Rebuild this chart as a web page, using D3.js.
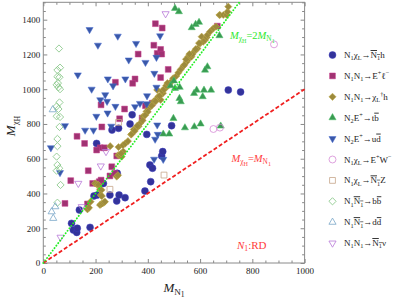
<!DOCTYPE html>
<html>
<head>
<meta charset="utf-8">
<script src="https://cdn.jsdelivr.net/npm/d3@7"></script>
<style>
body { margin: 0; background: #fff; }
svg { display: block; }
text { font-family: "Liberation Serif", "DejaVu Serif", serif; fill: #222; }
</style>
</head>
<body>
<svg id="chart" width="399" height="300"></svg>
<script>
// N1 chiL -> N1bar h
var chiNh = [[108,228],[115,190],[128,176],[130,200],[138,305],[179,205],[207,391],[230,458],[194,386],[255,391],[281,357],[290,391],[313,376],[283,516],[389,414],[411,468],[408,564],[418,545],[453,616],[457,641],[396,740],[263,765],[288,775],[332,800],[340,853],[204,688],[491,790],[708,995],[755,984]];
// N1 N1 -> E+ l-
var nnEl = [[429,1377],[455,1352],[423,1253],[363,1202],[436,1206],[449,1229],[453,1202],[478,1114],[449,1067],[351,1059],[342,1034],[276,1040],[221,910],[311,886],[292,830],[391,905],[417,920],[378,834],[129,729],[158,688],[224,783],[218,663],[234,663],[666,1363],[83,343],[105,474],[172,531],[189,458],[214,468],[221,477],[255,501],[262,554],[274,516],[281,616],[204,650],[169,340]];
// N1 N1 -> chiL^dagger h
var nnChih = [[169,309],[175,318],[181,353],[198,458],[205,452],[211,449],[217,424],[223,420],[220,391],[224,385],[217,334],[222,340],[227,343],[232,348],[236,353],[281,497],[286,505],[287,621],[291,621],[300,612],[306,641],[298,630],
  [256,672],[288,667],[305,678],[314,688],[324,701],[336,739],[338,742],[346,768],[356,777],[365,787],[372,806],[382,844],[395,872],[404,891],[410,910],[423,930],[433,943],[440,958],[449,939],[436,996],[458,977],[468,1006],[481,1025],[490,1044],[497,1063],[509,1076],[517,1095],[526,1114],[536,1133],[549,1158],[558,1177],[567,1187],[577,1215],[590,1234],[600,1263],[606,1302],[612,1273],[619,1283],[625,1298],[628,1312],[638,1331],[651,1350],[661,1360],[674,1427],[676,1427],[689,1427],[702,1427],[705,1446],[708,1475],
  [455,990],[462,1000],[470,1020],[475,1035],[445,960],[430,930],[415,905],[400,870],[390,850],[380,820],[360,790],[350,760],[596,1265],[583,1230],[570,1200],[540,1140],[555,1187],[546,1172],[559,1202]];
// N2 E+ -> t bbar
var neTb = [[504,1465],[519,1446],[568,1354],[583,1373],[596,1385],[674,1308],[628,1129],[619,1110],[587,995],[577,976],[615,995],[642,995],[610,957],[521,947],[526,928],[487,1020],[504,1005],[498,832],[542,778],[578,784],[602,800],[679,788],[459,742],[482,742],[500,1048],[522,1011]];
// N2 E+ -> u dbar
var neUd = [[177,1343],[209,1253],[285,1305],[355,1263],[447,1307],[132,1082],[185,1000],[327,1168],[391,1154],[433,1183],[425,1091],[247,1059],[314,1059],[267,1019],[237,968],[218,939],[244,930],[276,901],[246,863],[203,844],[160,764],[192,764],[260,787],[351,899],[370,918],[396,916],[397,962],[433,1011],[83,790],[29,663],[436,794],[428,712],[438,740],[424,597],[459,596],[64,520]];
// N1 chiL -> E+ W-
var chiEW = [[883,1258],[651,771],[676,779]];
// N1 chiL -> N1bar Z
var chiNZ = [[255,424],[462,506],[288,809]];
// N1 N1bar -> b bbar
var nnBb = [[60,1234],[54,1110],[64,1124],[54,1072],[62,1069],[51,1025],[58,1011],[64,1000],[56,1035],[62,924],[51,901],[58,886],[51,844],[64,840],[62,783],[54,714],[54,672],[51,612],[54,564],[61,545],[51,531],[66,449],[54,347]];
// N1 N1bar -> d dbar
var nnDd = [[36,882],[32,295],[38,257],[46,324]];
// N1 N1 -> N1bar nu
var nnNnu = [[468,1434],[134,458],[147,324],[66,148],[220,558],[240,641]];

var xTicks = [0, 200, 400, 600, 800, 1000];
var yTicks = [0, 200, 400, 600, 800, 1000, 1200, 1400];

var series = [
  {data: chiNh,  label: 'N_1χ_L→[N_1]h',   shape: 'circle',   color: '#33339a', fill: true},
  {data: nnEl,   label: 'N_1N_1→E^+ℓ^−',   shape: 'square',   color: '#a03272', fill: true},
  {data: nnChih, label: 'N_1N_1→χ_L^†h',   shape: 'diamond',  color: '#9c8a3c', fill: true},
  {data: neTb,   label: 'N_2E^+→t[b]',     shape: 'triangle', color: '#3a9a52', fill: true},
  {data: neUd,   label: 'N_2E^+→u[d]',     shape: 'down',     color: '#3a58a8', fill: true},
  {data: chiEW,  label: 'N_1χ_L→E^+W^−',   shape: 'circle',   color: '#d58ad5', fill: false},
  {data: chiNZ,  label: 'N_1χ_L→[N_1]Z',   shape: 'square',   color: '#c6a68a', fill: false},
  {data: nnBb,   label: 'N_1[N_1]→b[b]',   shape: 'diamond',  color: '#86c686', fill: false},
  {data: nnDd,   label: 'N_1[N_1]→d[d]',   shape: 'triangle', color: '#78a6c8', fill: false},
  {data: nnNnu,  label: 'N_1N_1→[N_1]ν',   shape: 'down',     color: '#b878d8', fill: false}
];

var svg = d3.select('#chart');
var x = d3.scaleLinear().domain([0, 1000]).range([43.3, 304.6]);
var y = d3.scaleLinear().domain([0, 1500]).range([263, 2.3]);

// small markup: _x sub, __x subsub, ^x sup, [..] overline, *..* italic
function rich(t, str, size) {
  var over = false, ital = false, cur = 0;
  for (var i = 0; i < str.length; i++) {
    var c = str[i], lvl = 0;
    if (c == '[') { over = true; continue; }
    if (c == ']') { over = false; continue; }
    if (c == '*') { ital = !ital; continue; }
    if (c == '_') {
      lvl = 1;
      if (str[i+1] == '_') { lvl = 2; i++; }
      c = str[++i];
    } else if (c == '^') {
      lvl = 3;
      c = str[++i];
    }
    var shift = [0, 0.26, 0.4, -0.38][lvl] * size;
    var ts = t.append('tspan').text(c)
      .attr('dy', shift - cur)
      .attr('font-size', [1, 0.7, 0.58, 0.7][lvl] * size);
    cur = shift;
    if (ital) ts.attr('font-style', 'italic');
    if (over) ts.style('text-decoration', 'overline');
  }
}

function symPath(shape) {
  if (shape == 'circle') return d3.symbol(d3.symbolCircle, 38)();
  if (shape == 'square') return d3.symbol(d3.symbolSquare, 34)();
  if (shape == 'diamond') return d3.symbol(d3.symbolSquare, 26)();
  return d3.symbol(d3.symbolTriangle, 22)();
}
function symRot(shape) {
  if (shape == 'diamond') return ' rotate(45)';
  if (shape == 'down') return ' rotate(180)';
  return '';
}
function styleMark(sel, s) {
  if (s.fill) sel.attr('fill', s.color).attr('stroke', d3.color(s.color).brighter(0.6)).attr('stroke-width', 0.5);
  else sel.attr('fill', 'none').attr('stroke', s.color).attr('stroke-width', 0.8);
}

// frame ticks
var minorX = d3.range(0, 1001, 50).filter(function(d) { return d % 200 != 0; });
var minorY = d3.range(0, 1501, 50).filter(function(d) { return d % 200 != 0; });
var fmt = d3.format('d');

function addAxis(axis, tr) {
  var g = svg.append('g').attr('transform', tr).call(axis);
  g.select('.domain').remove();
  g.selectAll('line').attr('stroke', '#888');
  g.selectAll('text').attr('font-family', '"Liberation Serif", serif').attr('font-size', 9).attr('fill', '#333');
  return g;
}
addAxis(d3.axisBottom(x).tickValues(xTicks).tickFormat(fmt).tickSizeInner(-4).tickPadding(5), 'translate(0,263)');
addAxis(d3.axisBottom(x).tickValues(minorX).tickSizeInner(-2.5).tickFormat(''), 'translate(0,263)');
addAxis(d3.axisTop(x).tickValues(xTicks).tickSizeInner(-4).tickFormat(''), 'translate(0,2.3)');
addAxis(d3.axisTop(x).tickValues(minorX).tickSizeInner(-2.5).tickFormat(''), 'translate(0,2.3)');
addAxis(d3.axisLeft(y).tickValues(yTicks).tickFormat(fmt).tickSizeInner(-4).tickPadding(3), 'translate(43.3,0)');
addAxis(d3.axisLeft(y).tickValues(minorY).tickSizeInner(-2.5).tickFormat(''), 'translate(43.3,0)');
addAxis(d3.axisRight(y).tickValues(yTicks).tickSizeInner(-4).tickFormat(''), 'translate(304.6,0)');
addAxis(d3.axisRight(y).tickValues(minorY).tickSizeInner(-2.5).tickFormat(''), 'translate(304.6,0)');

svg.append('rect')
  .attr('x', x(0)).attr('y', y(1500))
  .attr('width', x(1000) - x(0)).attr('height', y(0) - y(1500))
  .attr('fill', 'none').attr('stroke', '#8a8a8a').attr('stroke-width', 1);

// points
var plot = svg.append('g');
series.forEach(function(s) {
  var p = plot.selectAll(null).data(s.data).enter().append('path')
    .attr('d', symPath(s.shape))
    .attr('transform', function(d) { return 'translate(' + x(d[0]) + ',' + y(d[1]) + ')' + symRot(s.shape); });
  styleMark(p, s);
});

// reference lines
var line = d3.line().x(function(d) { return x(d[0]); }).y(function(d) { return y(d[1]); });
svg.append('path').attr('d', line([[0, 0], [1000, 1000]]))
  .attr('fill', 'none').attr('stroke', '#f02020').attr('stroke-width', 1.8).attr('stroke-dasharray', '4,2.2');
svg.append('path').attr('d', line([[0, 0], [750, 1500]]))
  .attr('fill', 'none').attr('stroke', '#22ee22').attr('stroke-width', 1.9)
  .attr('stroke-dasharray', '0.1,3').attr('stroke-linecap', 'round');

// annotations
var t1 = svg.append('text').attr('x', 230).attr('y', 38.5).style('fill', '#2ee82e');
rich(t1, '*M*_χ__H=2*M*_N__1', 10.5);
var t2 = svg.append('text').attr('x', 231.5).attr('y', 161.5).style('fill', '#ff3c3c');
rich(t2, '*M*_χ__H=*M*_N__1', 10.5);
var t3 = svg.append('text').attr('x', 237).attr('y', 248.5).style('fill', '#ff3c3c');
rich(t3, '*N*_1:RD', 11);

// axis titles
var xt = svg.append('text').attr('x', 174).attr('y', 292).attr('text-anchor', 'middle');
rich(xt, '*M*_N__1', 13);
var yt = svg.append('text').attr('transform', 'translate(15,126) rotate(-90)').attr('text-anchor', 'middle');
rich(yt, '*M*_χ__H', 13);

// legend
var leg = svg.append('g');
series.forEach(function(s, i) {
  var cy = 55 + i * 20.9;
  var m = leg.append('path').attr('d', symPath(s.shape))
    .attr('transform', 'translate(332.5,' + cy + ')' + symRot(s.shape));
  styleMark(m, s);
  var t = leg.append('text').attr('x', 344).attr('y', cy + 3).attr('font-size', 9);
  rich(t, s.label, 9);
});
</script>
</body>
</html>
